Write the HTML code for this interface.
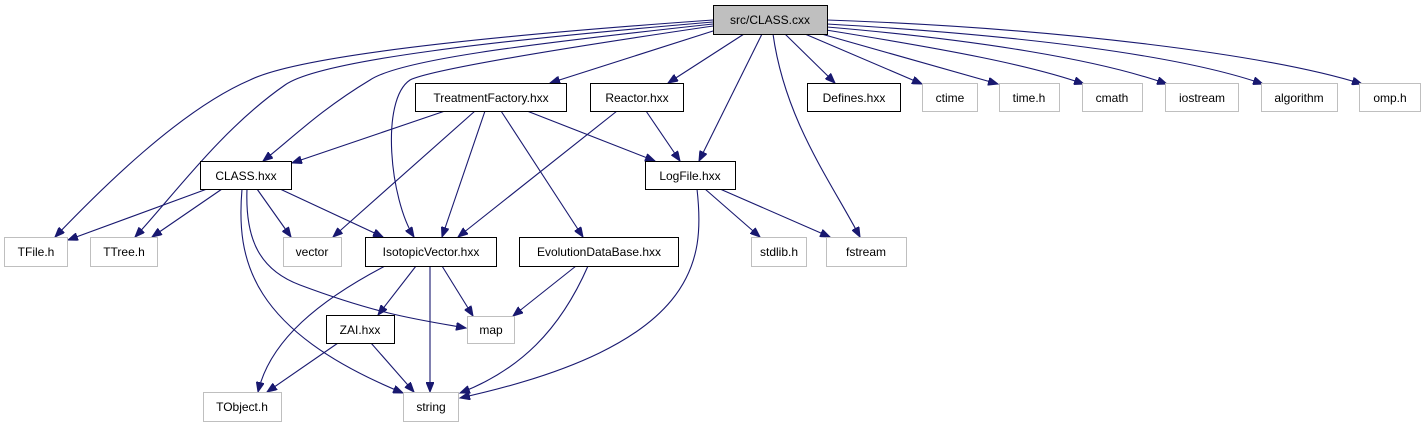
<!DOCTYPE html>
<html><head><meta charset="utf-8"><style>
html,body{margin:0;padding:0;background:#fff;}
svg{display:block;}
text{font-family:"Liberation Sans",sans-serif;font-size:12px;fill:#000;}
</style></head><body>
<svg width="1424" height="427" viewBox="0 0 1424 427" xmlns="http://www.w3.org/2000/svg">
<defs>
<marker id="a" markerUnits="userSpaceOnUse" markerWidth="11" markerHeight="8" refX="10" refY="4" orient="auto">
<path d="M0,0 L10,4 L0,8 z" fill="#191970" stroke="#191970" stroke-width="1"/>
</marker>
</defs>
<g fill="none" stroke="#191970" stroke-width="1.1" marker-end="url(#a)">
<path d="M713,20 C500,35 300,55 250,80 C180,110 100,190 55,237"/>
<path d="M713,22 C500,40 320,60 285,85 C220,130 170,200 135,237"/>
<path d="M713,24 C520,45 400,60 370,80 C320,110 290,140 263,161"/>
<path d="M713,26 C550,50 430,70 410,80 C380,100 390,200 414,237"/>
<path d="M713,31 L550,83"/>
<path d="M744,34 L668,83"/>
<path d="M762,34 L699,161"/>
<path d="M773,34 C785,120 830,180 860,237"/>
<path d="M785,34 L835,83"/>
<path d="M805,34 L922,84"/>
<path d="M818,33 L998,84"/>
<path d="M826,30 C950,50 1030,65 1084,84"/>
<path d="M827,27 C980,40 1100,60 1167,84"/>
<path d="M827,24 C1020,35 1180,55 1263,84"/>
<path d="M827,20 C1060,28 1270,55 1362,84"/>
<path d="M445,111 L292,163"/>
<path d="M475,111 L333,237"/>
<path d="M485,111 L442,237"/>
<path d="M501,111 L583,237"/>
<path d="M527,111 L655,161"/>
<path d="M646,111 L680,161"/>
<path d="M617,111 L458,237"/>
<path d="M207,189 L68,240"/>
<path d="M222,189 L152,237"/>
<path d="M257,189 L291,237"/>
<path d="M280,189 L383,237"/>
<path d="M242,189 C236,260 250,330 403,393"/>
<path d="M247,189 C245,240 260,270 300,285 C380,315 420,320 466,328"/>
<path d="M705,189 L760,237"/>
<path d="M720,189 L830,237"/>
<path d="M697,189 C705,260 700,345 460,398"/>
<path d="M385,266 C320,300 270,340 258,392"/>
<path d="M416,266 L378,315"/>
<path d="M430,266 L430,392"/>
<path d="M442,266 L473,316"/>
<path d="M576,266 L513,316"/>
<path d="M588,266 C560,330 520,370 460,393"/>
<path d="M338,343 L267,392"/>
<path d="M371,343 L414,392"/>
</g>
<g stroke-width="1">
<rect x="713.5" y="5.5" width="114" height="29" fill="#bfbfbf" stroke="#000"/>
<g fill="#fff" stroke="#000">
<rect x="415.5" y="83.5" width="151" height="28"/>
<rect x="590.5" y="83.5" width="93" height="28"/>
<rect x="807.5" y="83.5" width="93" height="28"/>
<rect x="200.5" y="161.5" width="91" height="28"/>
<rect x="645.5" y="161.5" width="90" height="28"/>
<rect x="365.5" y="237.5" width="131" height="29"/>
<rect x="519.5" y="237.5" width="159" height="29"/>
<rect x="326.5" y="315.5" width="68" height="28"/>
</g>
<g fill="#fff" stroke="#bfbfbf">
<rect x="922.5" y="83.5" width="55" height="28"/>
<rect x="999.5" y="83.5" width="60" height="28"/>
<rect x="1082.5" y="83.5" width="60" height="28"/>
<rect x="1165.5" y="83.5" width="73" height="28"/>
<rect x="1261.5" y="83.5" width="76" height="28"/>
<rect x="1359.5" y="83.5" width="61" height="28"/>
<rect x="4.5" y="237.5" width="63" height="29"/>
<rect x="90.5" y="237.5" width="67" height="29"/>
<rect x="283.5" y="237.5" width="58" height="29"/>
<rect x="751.5" y="237.5" width="55" height="29"/>
<rect x="826.5" y="237.5" width="80" height="29"/>
<rect x="467.5" y="316.5" width="47" height="27"/>
<rect x="203.5" y="392.5" width="78" height="29"/>
<rect x="403.5" y="392.5" width="55" height="29"/>
</g>
</g>
<g text-anchor="middle">
<text x="770" y="24">src/CLASS.cxx</text>
<text x="491" y="102">TreatmentFactory.hxx</text>
<text x="637" y="102">Reactor.hxx</text>
<text x="854" y="102">Defines.hxx</text>
<text x="950" y="102">ctime</text>
<text x="1029" y="102">time.h</text>
<text x="1112" y="102">cmath</text>
<text x="1202" y="102">iostream</text>
<text x="1299" y="102">algorithm</text>
<text x="1390" y="102">omp.h</text>
<text x="246" y="180">CLASS.hxx</text>
<text x="690" y="180">LogFile.hxx</text>
<text x="36" y="256">TFile.h</text>
<text x="124" y="256">TTree.h</text>
<text x="312" y="256">vector</text>
<text x="431" y="256">IsotopicVector.hxx</text>
<text x="599" y="256">EvolutionDataBase.hxx</text>
<text x="779" y="256">stdlib.h</text>
<text x="866" y="256">fstream</text>
<text x="360" y="334">ZAI.hxx</text>
<text x="491" y="334">map</text>
<text x="242" y="411">TObject.h</text>
<text x="431" y="411">string</text>
</g>
</svg>
</body></html>
